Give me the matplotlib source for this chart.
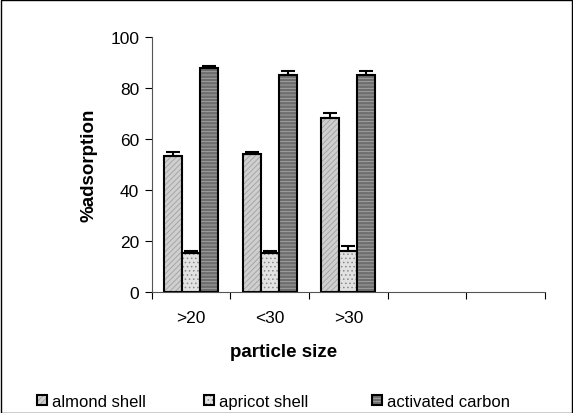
import matplotlib
matplotlib.use("Agg")
import matplotlib.pyplot as plt
import numpy as np
from matplotlib.patches import Rectangle

plt.rcParams['font.family'] = ['Liberation Sans', 'DejaVu Sans']
plt.rcParams['hatch.linewidth'] = 0.6

categories = [">20", "<30", ">30", "", ""]
series_names = ["almond shell", "apricot shell", "activated carbon"]
almond = [53.3, 54.0, 68.3]
almond_err = [1.5, 0.9, 1.8]
apricot = [15.3, 15.3, 16.3]
apricot_err = [0.9, 0.9, 1.7]
carbon = [87.9, 85.2, 85.2]
carbon_err = [0.8, 1.6, 1.6]

values = [almond, apricot, carbon]
errors = [almond_err, apricot_err, carbon_err]
facecolors = ["#cfcfcf", "#e2e2e2", "#6e6e6e"]
hatchcolors = ["#a0a0a0", "#8a8a8a", "#a8a8a8"]
hatches = ["//////", "....", "-----"]

fig = plt.figure(figsize=(5.73, 4.14), dpi=100)
fig.patches.append(Rectangle((0.001, 0.001), 0.997, 0.997, transform=fig.transFigure,
                             fill=False, edgecolor="black", linewidth=1.0, zorder=10))
ax = fig.add_axes([0.265, 0.292, 0.686, 0.616])

n = len(categories)
bw = 0.228
x = np.arange(len(almond)) + 0.5
handles = []
for i, (vals, errs) in enumerate(zip(values, errors)):
    pos = x + (i - 1) * bw
    bars = ax.bar(pos, vals, width=bw, facecolor=facecolors[i], edgecolor="black",
                  linewidth=1.5, hatch=hatches[i], label=series_names[i], zorder=2)
    for b in bars:
        b._hatch_color = matplotlib.colors.to_rgba(hatchcolors[i])
    handles.append(bars)
    ax.errorbar(pos, vals, yerr=[np.zeros(len(errs)), errs], fmt="none", ecolor="black",
                elinewidth=1.5, capsize=5, capthick=1.5, zorder=3)

ax.set_xlim(0, n)
ax.set_ylim(0, 100)
ax.set_yticks([0, 20, 40, 60, 80, 100])
ax.set_xticks(np.arange(n + 1))
ax.set_xticklabels([])
ax.set_xticks(np.arange(n) + 0.5, minor=True)
ax.set_xticklabels(categories, minor=True)
ax.tick_params(axis="x", which="minor", length=0, pad=13, labelsize=12.5)
ax.tick_params(axis="x", which="major", length=5, direction="out")
ax.tick_params(axis="y", length=5, direction="out", labelsize=12.5, pad=4)
for s in ["top", "right"]:
    ax.spines[s].set_visible(False)
ax.spines["left"].set_color("#555555")
ax.spines["bottom"].set_color("#555555")

ax.set_ylabel("%adsorption", fontsize=13.5, fontweight="bold")
ax.yaxis.set_label_coords(-0.138, 0.5)
ax.set_xlabel("particle size", fontsize=13.5, fontweight="bold")
ax.xaxis.set_label_coords(0.335, -0.2)

legend_x = [37, 204, 372]
for h, lab, lx in zip(handles, series_names, legend_x):
    fig.legend([h], [lab], loc="center left", bbox_to_anchor=(lx / 573, 0.028),
               frameon=False, fontsize=12, handlelength=0.6, handleheight=0.6,
               handletextpad=0.3, borderpad=0, borderaxespad=0)

fig.savefig("out.png", dpi=100)
